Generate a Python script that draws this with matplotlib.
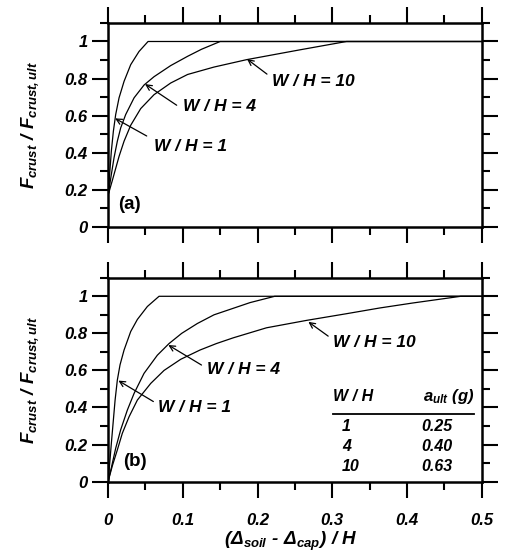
import matplotlib
matplotlib.use("Agg")
import matplotlib.pyplot as plt
from matplotlib.ticker import MultipleLocator

plt.rcParams['font.family'] = ['Liberation Sans', 'DejaVu Sans']
plt.rcParams['font.weight'] = 'bold'
plt.rcParams['font.style'] = 'italic'
plt.rcParams['mathtext.fontset'] = 'custom'
plt.rcParams['mathtext.it'] = 'Liberation Sans:bold:italic'
plt.rcParams['mathtext.rm'] = 'Liberation Sans:bold:italic'
plt.rcParams['mathtext.bf'] = 'Liberation Sans:bold:italic'

# panel (a) curves
xa_1 = [0, 0.0022, 0.0044, 0.0071, 0.0102, 0.0147, 0.0214, 0.0303, 0.0414, 0.0535, 0.5]
ya_1 = [0.15, 0.29, 0.409, 0.516, 0.606, 0.696, 0.785, 0.875, 0.946, 1, 1]
xa_4 = [0, 0.0044, 0.008, 0.0124, 0.0169, 0.0236, 0.0348, 0.0481, 0.0615, 0.0838, 0.1064, 0.125, 0.15, 0.5]
ya_4 = [0.17, 0.283, 0.373, 0.462, 0.534, 0.606, 0.696, 0.765, 0.81, 0.87, 0.92, 0.958, 1, 1]
xa_10 = [0, 0.0057, 0.0102, 0.0147, 0.0214, 0.0303, 0.0437, 0.0615, 0.0838, 0.1064, 0.1417, 0.1854, 0.2567, 0.319, 0.5]
ya_10 = [0.17, 0.25, 0.315, 0.38, 0.462, 0.548, 0.638, 0.713, 0.776, 0.822, 0.862, 0.902, 0.955, 1, 1]

# panel (b) curves
xb_1 = [0, 0.0022, 0.0044, 0.0067, 0.0094, 0.0124, 0.016, 0.0214, 0.0303, 0.0392, 0.0526, 0.0682, 0.5]
yb_1 = [0, 0.099, 0.207, 0.314, 0.44, 0.548, 0.63, 0.71, 0.81, 0.875, 0.945, 1, 1]
xb_4 = [0, 0.0044, 0.0102, 0.0169, 0.0258, 0.0348, 0.0481, 0.0659, 0.0816, 0.0985, 0.1194, 0.1417, 0.19, 0.223, 0.5]
yb_4 = [0, 0.075, 0.18, 0.28, 0.386, 0.476, 0.584, 0.682, 0.745, 0.80, 0.853, 0.9, 0.966, 1, 1]
xb_10 = [0, 0.0057, 0.0124, 0.0191, 0.0281, 0.0392, 0.0571, 0.0749, 0.0972, 0.123, 0.145, 0.1676, 0.212,
         0.2656, 0.319, 0.3636, 0.408, 0.472, 0.5]
yb_10 = [0, 0.085, 0.171, 0.261, 0.35, 0.44, 0.53, 0.6, 0.66, 0.71, 0.745, 0.776, 0.83,
         0.87, 0.906, 0.937, 0.964, 1, 1]

# small table in panel (b)
wh_ratio = ['1', '4', '10']
a_ult = ['0.25', '0.40', '0.63']

fig = plt.figure(figsize=(5.05, 5.6), dpi=100)
ax_a = fig.add_axes([0.214, 0.595, 0.740, 0.364])
ax_b = fig.add_axes([0.214, 0.140, 0.740, 0.364])

for ax in (ax_a, ax_b):
    ax.set_xlim(0, 0.5)
    ax.set_ylim(0, 1.1)
    ax.xaxis.set_major_locator(MultipleLocator(0.1))
    ax.xaxis.set_minor_locator(MultipleLocator(0.05))
    ax.yaxis.set_minor_locator(MultipleLocator(0.1))
    ax.tick_params(which='both', direction='out', top=True, right=True, width=1.5)
    ax.tick_params(which='major', length=11.5)
    ax.tick_params(which='minor', length=5.5)
    ax.tick_params(axis='y', which='major', pad=3, labelsize=12)
    ax.tick_params(axis='x', which='major', pad=11, labelsize=12)
    ax.set_yticks([0, 0.2, 0.4, 0.6, 0.8, 1.0])
    ax.set_yticklabels(['0', '0.2', '0.4', '0.6', '0.8', '1'])
    for sp in ax.spines.values():
        sp.set_linewidth(1.8)
    ax.set_ylabel(r'$F_{crust}\ /\ F_{crust,ult}$', fontsize=13.5)
    ax.yaxis.set_label_coords(-0.18, 0.5)

ax_a.tick_params(axis='x', labelbottom=False)
ax_b.set_xticks([0, 0.1, 0.2, 0.3, 0.4, 0.5])
ax_b.set_xticklabels(['0', '0.1', '0.2', '0.3', '0.4', '0.5'])
ax_b.set_xlabel('$(\\Delta_{soil}\\ \u2010\\ \\Delta_{cap})\\ /\\ H$', fontsize=13.5)
ax_b.xaxis.set_label_coords(0.49, -0.235)

lw = 0.9
ax_a.plot(xa_10, ya_10, color='black', lw=lw)
ax_a.plot(xa_4, ya_4, color='black', lw=lw)
ax_a.plot(xa_1, ya_1, color='black', lw=lw)
ax_b.plot(xb_10, yb_10, color='black', lw=lw)
ax_b.plot(xb_4, yb_4, color='black', lw=lw)
ax_b.plot(xb_1, yb_1, color='black', lw=lw)

arrow = dict(arrowstyle='->', lw=0.9, color='black', shrinkA=0, shrinkB=0)

# labels for panel (a)
ax_a.annotate('', xy=(0.186, 0.905), xytext=(0.2126, 0.824), arrowprops=arrow)
ax_a.text(0.219, 0.786, 'W / H = 10', fontsize=12.5, ha='left', va='center')
ax_a.annotate('', xy=(0.0495, 0.77), xytext=(0.0918, 0.656), arrowprops=arrow)
ax_a.text(0.100, 0.647, 'W / H = 4', fontsize=12.5, ha='left', va='center')
ax_a.annotate('', xy=(0.0094, 0.585), xytext=(0.0517, 0.49), arrowprops=arrow)
ax_a.text(0.0615, 0.435, 'W / H = 1', fontsize=12.5, ha='left', va='center')
ax_a.text(0.0135, 0.12, '(a)', fontsize=13.5, ha='left', va='center', style='normal')

# labels for panel (b)
ax_b.annotate('', xy=(0.268, 0.862), xytext=(0.2945, 0.785), arrowprops=arrow)
ax_b.text(0.301, 0.75, 'W / H = 10', fontsize=12.5, ha='left', va='center')
ax_b.annotate('', xy=(0.0806, 0.737), xytext=(0.125, 0.629), arrowprops=arrow)
ax_b.text(0.133, 0.606, 'W / H = 4', fontsize=12.5, ha='left', va='center')
ax_b.annotate('', xy=(0.0138, 0.545), xytext=(0.0606, 0.432), arrowprops=arrow)
ax_b.text(0.067, 0.40, 'W / H = 1', fontsize=12.5, ha='left', va='center')
ax_b.text(0.020, 0.107, '(b)', fontsize=13.5, ha='left', va='center', style='normal')

# table
ax_b.text(0.301, 0.459, 'W / H', fontsize=11.5, ha='left', va='center')
ax_b.text(0.490, 0.459, r'$a_{ult}\ (g)$', fontsize=12, ha='right', va='center')
ax_b.plot([0.301, 0.49], [0.364, 0.364], color='black', lw=1.3)
row_y = [0.297, 0.19, 0.082]
for wh, a, y in zip(wh_ratio, a_ult, row_y):
    ax_b.text(0.313, y, wh, fontsize=11.5, ha='left', va='center')
    ax_b.text(0.461, y, a, fontsize=11.5, ha='right', va='center')

fig.savefig('out.png', dpi=100)
